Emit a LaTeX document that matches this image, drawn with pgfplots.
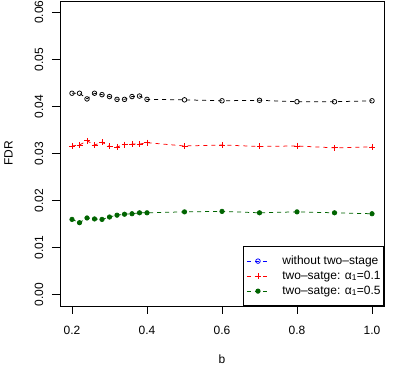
\documentclass[border=0pt]{standalone}
\usepackage{pgfplots}
\pgfplotsset{compat=1.18}
\usepackage{fontspec}
\setmainfont{Liberation Sans}
\definecolor{dgreen}{RGB}{0,100,0}
\begin{document}
\fontsize{12bp}{14bp}\selectfont
\begin{tikzpicture}
\path[use as bounding box] (0,0) rectangle (399bp,367bp);
\begin{axis}[
  at={(60bp,61bp)}, anchor=south west,
  scale only axis, width=324bp, height=305bp,
  xmin=0.168, xmax=1.032, ymin=-0.0024, ymax=0.0624,
  scaled ticks=false,
  xtick={0.2,0.4,0.6,0.8,1.0}, xticklabels={0.2,0.4,0.6,0.8,1.0},
  ytick={0,0.01,0.02,0.03,0.04,0.05,0.06},
  yticklabels={0.00,0.01,0.02,0.03,0.04,0.05,0.06},
  tick align=outside, xtick pos=left, ytick pos=left,
  major tick length=8bp,
  tick style={black, line width=0.75bp},
  axis line style={line width=0.75bp},
  font=\fontsize{12bp}{14bp}\selectfont,
  xticklabel style={anchor=center, yshift=-16bp},
  yticklabel style={rotate=90, anchor=center, yshift=13bp},
  xlabel={b}, ylabel={FDR},
  xlabel style={at={(axis description cs:0.5,0)}, anchor=center, yshift=-53bp},
  ylabel style={at={(axis description cs:0,0.5)}, anchor=center, rotate=0, yshift=51.5bp},
  legend style={at={(1,0)}, anchor=south east, draw=black, line width=0.75bp,
    font=\fontsize{12bp}{14bp}\selectfont,
    nodes={inner sep=0bp, text height=9bp, text depth=3bp},
    row sep=3bp, inner xsep=3bp, inner ysep=8.5bp,
    /tikz/every odd column/.append style={column sep=13bp}},
  legend cell align=left,
  legend image code/.code={\draw[mark repeat=2, mark phase=2, dash pattern=on 4bp off 4bp, line width=0.75bp] plot coordinates {(0bp,0bp) (11bp,0bp) (22bp,0bp)};},
]
\addplot[black, dash pattern=on 4bp off 4bp, line width=0.75bp, mark=o, mark size=2.3bp, mark options={solid, line width=0.75bp}, forget plot] coordinates {
(0.20,0.0428) (0.22,0.0428) (0.24,0.0416) (0.26,0.0428) (0.28,0.0425) (0.30,0.0421)
(0.32,0.0415) (0.34,0.0415) (0.36,0.0421) (0.38,0.0422) (0.40,0.0415)
(0.5,0.0414) (0.6,0.0412) (0.7,0.0413) (0.8,0.0410) (0.9,0.0410) (1.0,0.0412)};
\addlegendimage{blue, mark=o, mark size=2.3bp, mark options={solid}}
\addlegendentry{without two–stage}
\addplot[red, dash pattern=on 4bp off 4bp, line width=0.75bp, mark=+, mark size=3bp, mark options={solid, line width=0.75bp}] coordinates {
(0.20,0.0316) (0.22,0.0318) (0.24,0.0327) (0.26,0.0318) (0.28,0.0324) (0.30,0.0315)
(0.32,0.0314) (0.34,0.0319) (0.36,0.0320) (0.38,0.0320) (0.40,0.0323)
(0.5,0.0316) (0.6,0.0318) (0.7,0.0315) (0.8,0.0316) (0.9,0.0312) (1.0,0.0314)};
\addlegendentry{two–satge: α\textsubscript{1}=0.1}
\addplot[dgreen, dash pattern=on 4bp off 4bp, line width=0.75bp, mark=*, mark size=2.2bp, mark options={solid, fill=dgreen}] coordinates {
(0.20,0.0160) (0.22,0.0153) (0.24,0.0163) (0.26,0.0161) (0.28,0.0160) (0.30,0.0165)
(0.32,0.0169) (0.34,0.0171) (0.36,0.0172) (0.38,0.0174) (0.40,0.0174)
(0.5,0.0176) (0.6,0.0177) (0.7,0.0174) (0.8,0.0176) (0.9,0.0174) (1.0,0.0172)};
\addlegendentry{two–satge: α\textsubscript{1}=0.5}
\end{axis}
\end{tikzpicture}
\end{document}
